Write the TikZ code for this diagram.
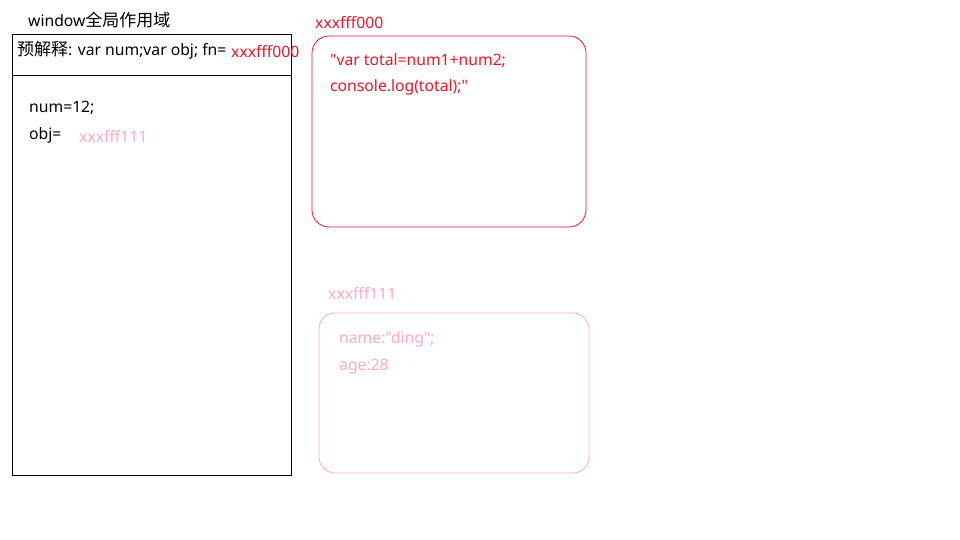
\documentclass[tikz,border=0pt]{standalone}
\usepackage{fontspec}
\setmainfont[Ligatures=TeXOff]{Noto Sans}
\newfontfamily\cjk[Ligatures=TeXOff]{Noto Sans CJK SC}
\definecolor{fnred}{RGB}{232,24,44}
\definecolor{objpink}{RGB}{255,170,200}
\newcommand{\dq}{"}
\begin{document}
\begin{tikzpicture}[x=1pt,y=-1pt,
  txt/.style={anchor=west,inner sep=0pt,font=\fontsize{15.7}{18}\selectfont},
  redtxt/.style={txt,text=fnred},
  pinktxt/.style={txt,text=objpink}]
\useasboundingbox (0,0) rectangle (960,540);
% window scope
\node[txt] (title) at (28,20) {window{\cjk\fontsize{17}{19}\selectfont 全局作用域}};
\draw[black,line width=0.8pt] (12,34) rectangle (291,475);
\draw[black,line width=0.8pt] (12,75) -- (292,75);
\node[txt] (pre) at (17,50) {{\cjk\fontsize{17}{19}\selectfont 预解释}: var num;var obj; fn=};
\node[redtxt] (preaddr) at (231,52) {xxxfff000};
\node[txt] (num) at (29,107.5) {num=12;};
\node[txt] (obj) at (29,135.5) {obj=};
\node[pinktxt] (objaddr) at (79,136) {xxxfff111};
% function heap
\node[redtxt] (fnlabel) at (315,23) {xxxfff000};
\draw[fnred,line width=0.8pt,rounded corners=17pt] (312,36) rectangle (586,227);
\node[redtxt] (fn1) at (330,60.5) {\dq var total=num1+num2;};
\node[redtxt] (fn2) at (330,87.5) {console.log(total);\dq};
% object heap
\node[pinktxt] (objlabel) at (328,293.5) {xxxfff111};
\draw[objpink,line width=0.8pt,rounded corners=16pt] (319,313) rectangle (589,473);
\node[pinktxt] (o1) at (339,339.5) {name:\dq ding\dq;};
\node[pinktxt] (o2) at (339,366.5) {age:28};
\end{tikzpicture}
\end{document}
